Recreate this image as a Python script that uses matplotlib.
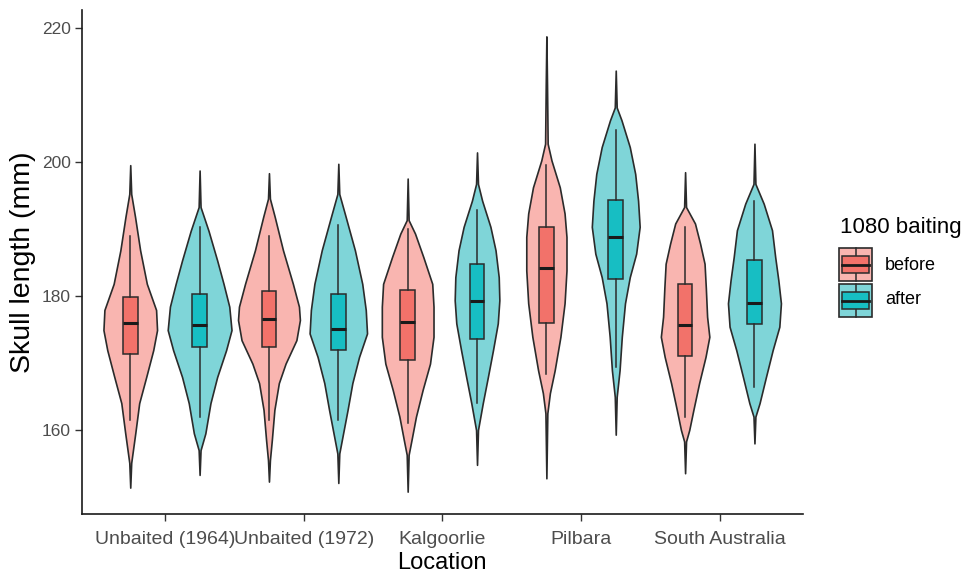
import matplotlib
matplotlib.use("Agg")
import matplotlib.pyplot as plt
from matplotlib.patches import Rectangle
import numpy as np

plt.rcParams['font.family'] = ['Liberation Sans', 'DejaVu Sans']

locations = ["Unbaited (1964)", "Unbaited (1972)", "Kalgoorlie", "Pilbara", "South Australia"]
groups = ["before", "after"]

# violin profiles: y values and relative half-widths
violin_y = {
    ("Unbaited (1964)", "before"): [151.4, 155.1, 159.6, 164.0, 167.9, 171.9, 174.9, 177.9, 181.8, 186.8, 191.8, 195.2, 199.5],
    ("Unbaited (1964)", "after"):  [153.3, 157.0, 159.5, 164.0, 167.9, 171.9, 174.9, 178.4, 181.8, 185.3, 189.7, 193.25, 198.7],
    ("Unbaited (1972)", "before"): [152.3, 155.5, 158.5, 163.0, 167.0, 169.9, 173.4, 176.4, 178.4, 181.8, 186.8, 191.8, 194.5, 198.3],
    ("Unbaited (1972)", "after"):  [152.1, 156.5, 159.0, 163.0, 167.0, 170.9, 174.4, 177.9, 181.8, 186.8, 191.8, 195.2, 199.7],
    ("Kalgoorlie", "before"):      [150.8, 156.3, 158.5, 162.0, 166.0, 169.9, 173.9, 178.4, 181.8, 185.8, 189.3, 191.3, 197.5],
    ("Kalgoorlie", "after"):       [154.8, 160.0, 164.0, 167.9, 171.9, 175.9, 179.35, 182.8, 186.8, 190.3, 194.2, 196.7, 201.4],
    ("Pilbara", "before"):         [152.8, 162.5, 165.5, 168.9, 173.9, 178.9, 183.8, 188.8, 192.3, 196.2, 200.2, 202.7, 211.5, 218.7],
    ("Pilbara", "after"):          [159.3, 164.96, 168.9, 173.9, 178.9, 182.8, 186.3, 190.3, 194.2, 198.2, 202.2, 206.2, 208.1, 213.6],
    ("South Australia", "before"): [153.55, 158.3, 160.0, 163.0, 167.0, 170.9, 173.9, 176.9, 181.2, 184.8, 187.8, 190.8, 193.25, 198.45],
    ("South Australia", "after"):  [158.0, 162.0, 164.0, 167.9, 171.9, 175.4, 178.9, 182.3, 185.8, 189.8, 193.75, 196.7, 202.7],
}
violin_w = {
    ("Unbaited (1964)", "before"): [0, 0.03, 0.16, 0.28, 0.50, 0.72, 0.84, 0.81, 0.52, 0.31, 0.15, 0.03, 0],
    ("Unbaited (1964)", "after"):  [0, 0.03, 0.18, 0.34, 0.55, 0.83, 1.00, 0.93, 0.75, 0.55, 0.28, 0.03, 0],
    ("Unbaited (1972)", "before"): [0, 0.03, 0.09, 0.17, 0.31, 0.52, 0.86, 0.97, 0.94, 0.75, 0.44, 0.18, 0.03, 0],
    ("Unbaited (1972)", "after"):  [0, 0.03, 0.13, 0.29, 0.44, 0.65, 0.90, 0.86, 0.75, 0.52, 0.23, 0.03, 0],
    ("Kalgoorlie", "before"):      [0, 0.03, 0.12, 0.26, 0.47, 0.70, 0.81, 0.81, 0.77, 0.49, 0.23, 0.03, 0],
    ("Kalgoorlie", "after"):       [0, 0.03, 0.18, 0.34, 0.50, 0.65, 0.70, 0.68, 0.58, 0.42, 0.16, 0.03, 0],
    ("Pilbara", "before"):         [0, 0.03, 0.11, 0.26, 0.44, 0.57, 0.63, 0.63, 0.57, 0.42, 0.16, 0.04, 0.02, 0],
    ("Pilbara", "after"):          [0, 0.03, 0.12, 0.19, 0.29, 0.44, 0.64, 0.75, 0.70, 0.61, 0.44, 0.18, 0.03, 0],
    ("South Australia", "before"): [0, 0.03, 0.13, 0.26, 0.44, 0.64, 0.76, 0.69, 0.65, 0.61, 0.47, 0.31, 0.03, 0],
    ("South Australia", "after"):  [0, 0.03, 0.16, 0.36, 0.57, 0.78, 0.83, 0.75, 0.65, 0.55, 0.29, 0.03, 0],
}
# boxplot stats: whisker low, q1, median, q3, whisker high
box_stats = {
    ("Unbaited (1964)", "before"): [161.5, 171.3, 176.0, 179.85, 189.0],
    ("Unbaited (1964)", "after"):  [162.0, 172.4, 175.7, 180.35, 190.3],
    ("Unbaited (1972)", "before"): [161.5, 172.4, 176.6, 180.75, 189.0],
    ("Unbaited (1972)", "after"):  [161.5, 171.9, 175.0, 180.35, 190.5],
    ("Kalgoorlie", "before"):      [161.0, 170.5, 176.1, 180.95, 190.0],
    ("Kalgoorlie", "after"):       [164.0, 173.55, 179.25, 184.8, 192.8],
    ("Pilbara", "before"):         [168.4, 176.0, 184.1, 190.3, 199.5],
    ("Pilbara", "after"):          [169.4, 182.5, 188.8, 194.3, 204.7],
    ("South Australia", "before"): [162.0, 171.0, 175.6, 181.7, 190.3],
    ("South Australia", "after"):  [166.4, 175.8, 178.9, 185.3, 194.2],
}

violin_fill = {"before": "#F9B5B0", "after": "#7FD5D8"}
box_fill = {"before": "#F2726A", "after": "#17BEC3"}
edge = "#2B2B2B"
offset = {"before": -0.25, "after": 0.25}
max_half = 0.23
box_w = 0.105

W, H = 969, 572
fig = plt.figure(figsize=(W / 100, H / 100), dpi=100)
ax = fig.add_axes([81.7 / W, 1 - 514 / H, (803 - 81.7) / W, (514 - 10) / H])

for i, loc in enumerate(locations):
    for g in groups:
        key = (loc, g)
        xc = i + 1 + offset[g]
        y = np.array(violin_y[key])
        hw = np.array(violin_w[key]) * max_half
        ax.fill_betweenx(y, xc - hw, xc + hw, facecolor=violin_fill[g],
                         edgecolor=edge, linewidth=1.2, zorder=2)
        lo, q1, med, q3, hi = box_stats[key]
        st = dict(whislo=lo, q1=q1, med=med, q3=q3, whishi=hi, fliers=[])
        ax.bxp([st], positions=[xc], widths=box_w, patch_artist=True,
               showcaps=False, showfliers=False, manage_ticks=False,
               boxprops=dict(facecolor=box_fill[g], edgecolor=edge, linewidth=1.1),
               whiskerprops=dict(color=edge, linewidth=1.1),
               medianprops=dict(color="#1A1A1A", linewidth=2.2), zorder=3)

ax.set_xlim(0.4, 5.6)
ax.set_ylim(147.47, 222.64)
ax.set_xticks(range(1, len(locations) + 1))
ax.set_xticklabels(locations)
ax.set_yticks([160, 180, 200, 220])
ax.tick_params(axis='x', labelsize=14, colors="#333333", labelcolor="#4D4D4D",
               length=5, width=1, pad=7)
ax.tick_params(axis='y', labelsize=12.5, colors="#333333", labelcolor="#4D4D4D",
               length=5, width=1, pad=3)
for s in ["top", "right"]:
    ax.spines[s].set_visible(False)
for s in ["left", "bottom"]:
    ax.spines[s].set_linewidth(1.2)
    ax.spines[s].set_color("#1A1A1A")
ax.set_xlabel("Location", fontsize=17, color="black", labelpad=3)
ax.set_ylabel("Skull length (mm)", fontsize=20.5, color="black", labelpad=4)

# legend (manual)
fig.text(840 / W, 1 - 228 / H, "1080 baiting", fontsize=16, ha="left", va="center")
label_y = {"before": 265, "after": 300}
key_top = {"before": 247, "after": 283}
for g in groups:
    kax = fig.add_axes([838 / W, 1 - (key_top[g] + 35) / H, 35 / W, 35 / H])
    kax.set_xlim(0, 1)
    kax.set_ylim(0, 1)
    kax.axis("off")
    kax.add_patch(Rectangle((0.02, 0.02), 0.96, 0.96, facecolor=violin_fill[g],
                            edgecolor=edge, linewidth=1.2))
    kax.plot([0.5, 0.5], [0.02, 0.98], color=edge, linewidth=1.1)
    kax.add_patch(Rectangle((0.12, 0.25), 0.76, 0.5, facecolor=box_fill[g],
                            edgecolor=edge, linewidth=1.1, zorder=3))
    kax.plot([0.12, 0.88], [0.5, 0.5], color="#1A1A1A", linewidth=2, zorder=4)
    fig.text(885 / W, 1 - label_y[g] / H, g, fontsize=13, ha="left", va="center")

fig.savefig("out.png", dpi=100)
